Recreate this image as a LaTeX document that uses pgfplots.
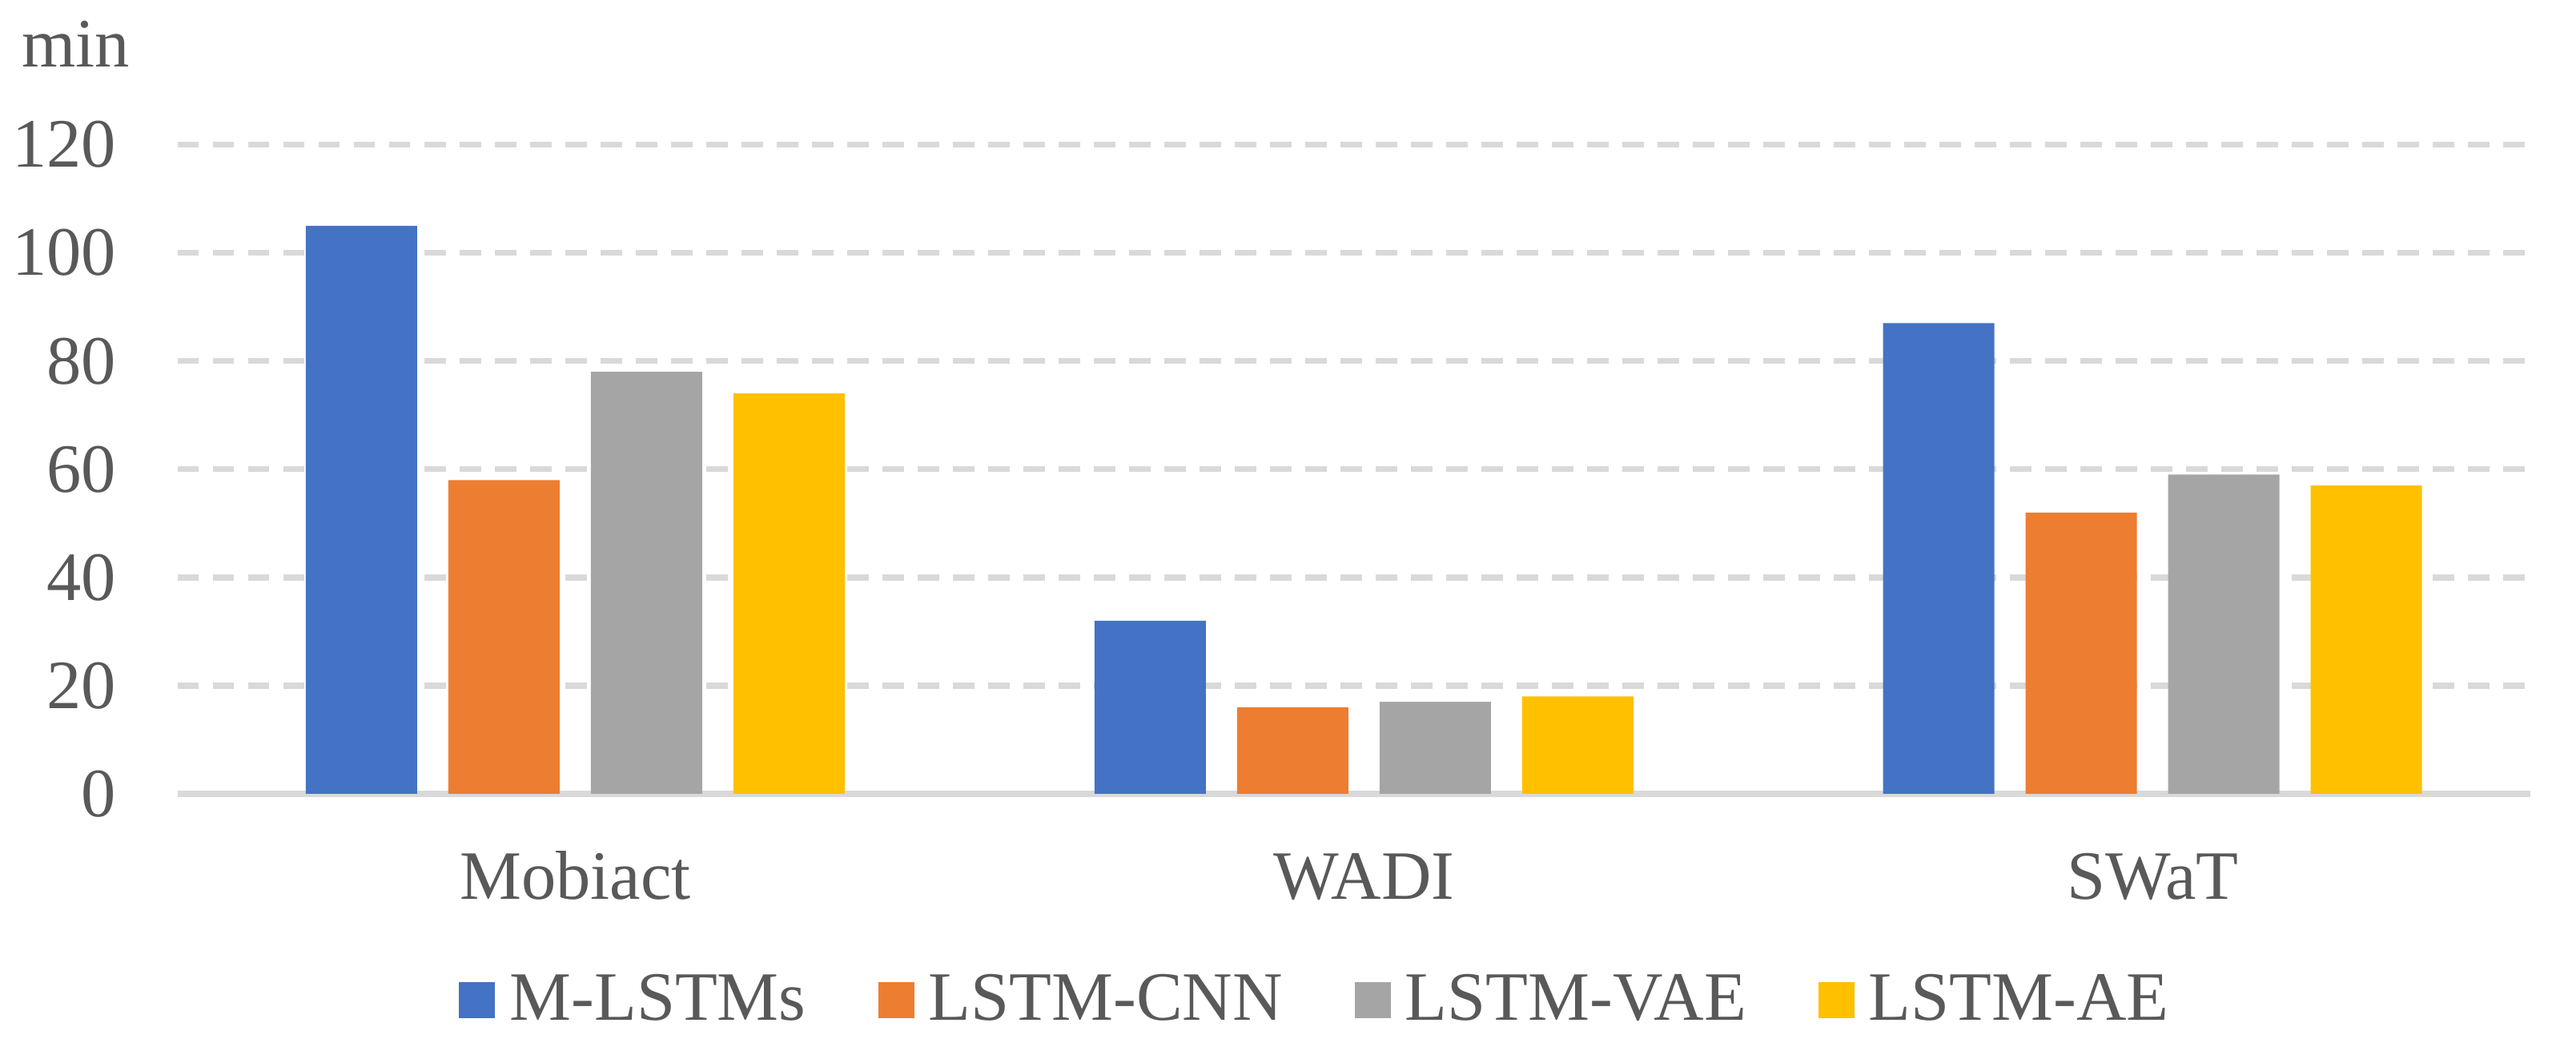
\documentclass[border=0pt]{standalone}
\usepackage{fontspec}
\setmainfont{Liberation Serif}
\usepackage{pgfplots}
\pgfplotsset{compat=1.18}
\definecolor{cblue}{HTML}{4472C4}
\definecolor{corange}{HTML}{ED7D31}
\definecolor{cgray}{HTML}{A5A5A5}
\definecolor{cyellow}{HTML}{FFC000}
\definecolor{cgrid}{HTML}{D9D9D9}
\definecolor{ctext}{HTML}{595959}
\begin{document}
\begin{tikzpicture}
\begin{axis}[
    ybar=7.8pt,
    bar width=27.8pt,
    width=587.6pt,
    height=162.1pt,
    scale only axis,
    clip=false,
    xmin=-0.504, xmax=2.479,
    ymin=0, ymax=120,
    xtick={0,1,2},
    xticklabels={Mobiact,WADI,SWaT},
    ytick={0,20,...,120},
    major tick length=0pt,
    axis lines*=left,
    x axis line style={draw=cgrid, line width=1.5pt},
    y axis line style={draw=none},
    ymajorgrids,
    major grid style={cgrid, line width=1.5pt, dash pattern=on 5.3pt off 3.5pt},
    tick label style={text=ctext, font=\fontsize{17.3}{20}\selectfont},
    /pgf/number format/assume math mode=true,
    yticklabel style={inner sep=0pt, xshift=-15.2pt},
    xticklabel style={anchor=base, inner sep=0pt, yshift=-26.4pt},
    legend columns=4,
    legend style={
        at={(0.4830,-0.3183)},
        anchor=center,
        draw=none,
        font=\fontsize{17.3}{20}\selectfont,
        nodes={text=ctext, inner sep=0pt},
        /tikz/every even column/.append style={column sep=18pt}
    },
    legend image code/.code={
        \fill[#1] (0pt,-4.5pt) rectangle (9pt,4.5pt);
        \path (12.6pt,0pt);
    },
]

% M-LSTMs
\addplot[fill=cblue, draw=none] coordinates {(0,105) (1,32) (2,87)};
% LSTM-CNN
\addplot[fill=corange, draw=none] coordinates {(0,58) (1,16) (2,52)};
% LSTM-VAE
\addplot[fill=cgray, draw=none] coordinates {(0,78) (1,17) (2,59)};
% LSTM-AE
\addplot[fill=cyellow, draw=none] coordinates {(0,74) (1,18) (2,57)};

\legend{M-LSTMs, LSTM-CNN, LSTM-VAE, LSTM-AE}

\node[anchor=base west, inner sep=0pt, text=ctext, font=\fontsize{17.3}{20}\selectfont,
      xshift=-39.1pt, yshift=19.3pt] at (rel axis cs:0,1) {min};
\end{axis}
\pgfresetboundingbox
\path ([shift={(-44.4pt,-61.2pt)}]current axis.south west)
    rectangle ([shift={(599pt,198.2pt)}]current axis.south west);
\end{tikzpicture}
\end{document}
